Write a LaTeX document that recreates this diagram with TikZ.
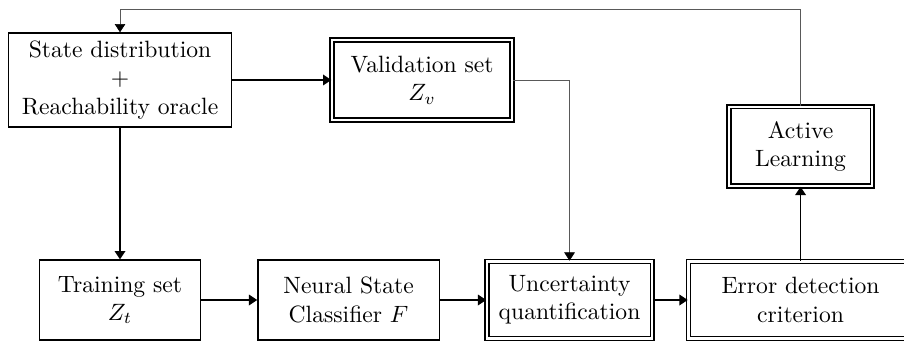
\documentclass[tikz,border=0pt]{standalone}
\usetikzlibrary{arrows.meta}

\begin{document}
\begin{tikzpicture}[
    bloc/.style={draw, semithick, align=center, inner sep=0pt},
    blocdouble/.style={bloc, double, double distance=1pt},
    fleche/.style={semithick, -{Triangle[length=3.5pt,width=4.5pt]}},
    retour/.style={line width=0.25pt, color=\LienColor, -{Triangle[length=3.5pt,width=4.5pt,color=black]}}
]
    %Couleur des liens de retour
\def \LienColor {black!65}

\useasboundingbox (0,0) rectangle (13.46,-5.063);

% blocs du haut
\node[bloc, minimum width=3.32cm, minimum height=1.40cm] (distrib) at (1.787,-1.191) {State distribution\\ $+$\\ Reachability oracle};
\node[blocdouble, minimum width=2.68cm, minimum height=1.19cm] (valid) at (6.284,-1.191) {Validation set\\ $Z_v$};
\node[blocdouble, minimum width=2.13cm, minimum height=1.18cm] (active) at (11.92,-2.18) {Active\\ Learning};

% blocs du bas
\node[bloc, minimum width=2.40cm, minimum height=1.19cm] (train) at (1.787,-4.467) {Training set\\ $Z_t$};
\node[bloc, minimum width=2.70cm, minimum height=1.19cm] (classif) at (5.19,-4.467) {Neural State\\ Classifier $F$};
\node[blocdouble, minimum width=2.46cm, minimum height=1.15cm] (incert) at (8.48,-4.467) {Uncertainty\\ quantification};
\node[blocdouble, minimum width=3.34cm, minimum height=1.15cm] (erreur) at (11.92,-4.467) {Error detection\\ criterion};

% liens
\draw[fleche] (distrib) -- (valid);
\draw[fleche] (distrib) -- (train);
\draw[fleche] (train) -- (classif);
\draw[fleche] (classif) -- (incert);
\draw[fleche] (incert) -- (erreur);
\draw[fleche] (erreur) -- (active);

% liens de retour
\coordinate (haut) at (0,-0.134);
\draw[retour] (valid.east) -| (incert.north);
\draw[retour] (active.north) -- (active.north |- haut) -| (distrib.north);

\end{tikzpicture}
\end{document}
